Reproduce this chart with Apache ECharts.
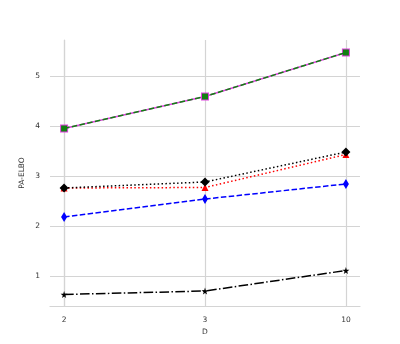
<!DOCTYPE html>
<html>
<head>
<meta charset="utf-8">
<script src="https://cdn.jsdelivr.net/npm/echarts@6/dist/echarts.min.js"></script>
<style>
  html, body { margin: 0; padding: 0; background: #fff; }
  #chart { width: 400px; height: 344px; }
</style>
</head>
<body>
<div id="chart"></div>
<script>
// x categories (D) and tick values
const dLabels = ['2', '3', '10'];
const yTicks = [1, 2, 3, 4, 5];

// series values
const magentaVals = [3.95, 4.59, 5.47];
const greenVals = [3.95, 4.59, 5.47];
const redVals = [2.76, 2.77, 3.43];
const blackDiamondVals = [2.76, 2.88, 3.48];
const blueVals = [2.18, 2.54, 2.84];
const starVals = [0.63, 0.70, 1.11];

const star = 'path://M50,0 L61,35 L98,35 L68,57 L79,91 L50,70 L21,91 L32,57 L2,35 L39,35 Z';
const pts = vals => vals.map((v, i) => [i, v]);

const grid = '#d4d4d4';
const font = { fontFamily: 'DejaVu Sans', fontSize: 7.5, color: '#333' };

const chart = echarts.init(document.getElementById('chart'), null, { renderer: 'canvas' });

function line(name, vals, color, dash, symbol, size, z) {
  return {
    name: name,
    type: 'line',
    data: pts(vals),
    symbol: symbol,
    symbolSize: size,
    showAllSymbol: true,
    z: z,
    lineStyle: { color: color, width: 1.5, type: dash },
    itemStyle: { color: color, borderWidth: 0 },
    emphasis: { disabled: true },
    animation: false
  };
}

chart.setOption({
  animation: false,
  grid: { left: 50, right: 40, top: 40, bottom: 38 },
  xAxis: {
    type: 'value',
    min: -0.1,
    max: 2.1,
    name: 'D',
    nameLocation: 'middle',
    nameGap: 22,
    nameMoveOverlap: false,
    nameTextStyle: font,
    axisLine: { show: true, lineStyle: { color: grid, width: 1.2 } },
    axisTick: { show: false, customValues: [0, 1, 2] },
    axisLabel: {
      ...font,
      margin: 10,
      customValues: [0, 1, 2],
      formatter: v => dLabels[Math.round(v)]
    },
    splitLine: { show: false }
  },
  yAxis: {
    type: 'value',
    min: 0.4,
    max: 5.72,
    name: 'PA-ELBO',
    nameLocation: 'middle',
    nameGap: 24,
    nameMoveOverlap: false,
    nameTextStyle: font,
    axisLine: { show: true, lineStyle: { color: grid, width: 1.2 } },
    axisTick: { show: false, customValues: yTicks },
    axisLabel: { ...font, margin: 10, customValues: yTicks },
    splitLine: { show: true, lineStyle: { color: grid, width: 1.2 } }
  },
  series: [
    {
      // vertical grid lines at the three D values
      type: 'line',
      data: [],
      z: 0,
      silent: true,
      markLine: {
        z: 0,
        silent: true,
        symbol: 'none',
        label: { show: false },
        lineStyle: { color: grid, width: 1.2, type: 'solid' },
        data: [0, 1, 2].map(x => ({ xAxis: x }))
      }
    },
    line('magenta', magentaVals, '#e040e0', 'solid', 'rect', 8, 2),
    line('green', greenVals, '#118011', [5.5, 2.4], 'rect', 6, 3),
    line('red', redVals, '#ff0000', [1.5, 2.4], 'triangle', 7, 4),
    line('black', blackDiamondVals, '#000000', [1.5, 2.4], 'diamond', 9, 5),
    line('blue', blueVals, '#0000ff', [5.5, 2.4], 'diamond', [6, 10], 4),
    line('star', starVals, '#000000', [9.6, 2.4, 1.5, 2.4], star, 7, 4)
  ]
});
</script>
</body>
</html>
